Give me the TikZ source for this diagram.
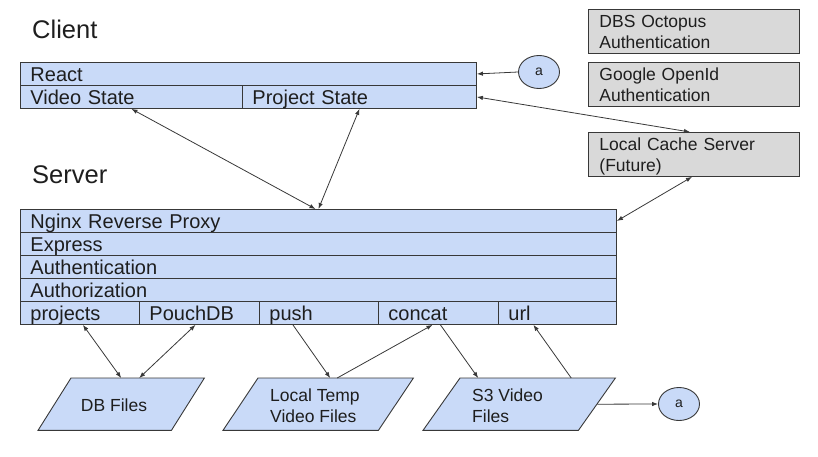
\documentclass[tikz,border=0pt]{standalone}
\usepackage{fontspec}
\setmainfont{Liberation Sans}
\usetikzlibrary{arrows.meta,shapes.geometric}
\definecolor{lblue}{HTML}{C9DAF8}
\definecolor{lgray}{HTML}{D9D9D9}
\definecolor{edgec}{HTML}{383838}
\definecolor{txtc}{HTML}{1E1E1E}
\newcommand\rfnt{\fontsize{20}{23}\selectfont}
\newcommand\gfnt{\fontsize{17.5}{21}\selectfont}
\newcommand\tfnt{\fontsize{25.5}{30}\selectfont}
\newcommand\cfnt{\fontsize{14}{16}\selectfont}
\begin{document}
\begin{tikzpicture}[x=1pt,y=-1pt,
  every node/.style={text=txtc},
  row/.style={draw=edgec, fill=lblue, line width=0.9pt, anchor=north west,
    inner xsep=10pt, inner ysep=0pt, minimum height=23pt,
    text height=15pt, text depth=0pt, align=left, font=\rfnt},
  gbox/.style={draw=edgec, fill=lgray, line width=0.9pt, anchor=north west,
    inner xsep=11pt, inner ysep=0pt, text width=189pt,
    text height=18.5pt, text depth=25.5pt, align=left, font=\gfnt},
  pbound/.style={inner sep=0pt, minimum height=52pt, anchor=north west},
  pshape/.style={draw=edgec, fill=lblue, line width=0.9pt, line join=miter},
  ptext/.style={font=\gfnt, align=left},
  circ/.style={ellipse, draw=edgec, fill=lblue, line width=0.9pt, inner sep=0pt,
    minimum width=41pt, minimum height=33pt, font=\cfnt},
  title/.style={font=\tfnt, anchor=base west, inner sep=0pt},
  conn/.style={draw=edgec, line width=0.8pt},
  oneway/.style={conn, -{Latex[length=6pt,width=4.5pt]}},
  twoway/.style={conn, {Latex[length=6pt,width=4.5pt]}-{Latex[length=6pt,width=4.5pt]}}
]
\useasboundingbox (0,0) rectangle (818,457);

% titles
\node[title] (tclient) at (32,39) {Client};
\node[title] (tserver) at (32,183) {Server};

% client block
\node[row, text width=436pt] (react) at (20,62) {React};
\node[row, text width=202pt] (vs) at (20,85) {Video State};
\node[row, text width=214pt] (ps) at (242,85) {Project State};

% server block
\node[row, text width=576pt] (nginx) at (20,209) {Nginx Reverse Proxy};
\node[row, text width=576pt] (express) at (20,232) {Express};
\node[row, text width=576pt] (auth) at (20,255) {Authentication};
\node[row, text width=576pt] (authz) at (20,278) {Authorization};
\node[row, text width=99pt] (projects) at (20,301) {projects};
\node[row, text width=100pt] (pouch) at (139,301) {PouchDB};
\node[row, text width=99pt] (push) at (259,301) {push};
\node[row, text width=100pt] (concat) at (378,301) {concat};
\node[row, text width=98pt] (url) at (498,301) {url};

% gray boxes
\node[gbox] (dbs) at (588,9) {DBS Octopus\\Authentication};
\node[gbox] (google) at (588,62) {Google OpenId\\Authentication};
\node[gbox] (lc) at (588,132) {Local Cache Server\\(Future)};

% circles
\node[circ] (ca1) at (539,72) {a};
\node[circ] (ca2) at (679,404) {a};

% parallelograms
\node[pbound, minimum width=166pt] (dbf) at (38,378) {};
\path[pshape] ([xshift=33pt]dbf.north west) -- (dbf.north east)
  -- ([xshift=-33pt]dbf.south east) -- (dbf.south west) -- cycle;
\node[ptext, anchor=base] (dbft) at (114,411) {DB Files};

\node[pbound, minimum width=190pt] (lt) at (223,378) {};
\path[pshape] ([xshift=35pt]lt.north west) -- (lt.north east)
  -- ([xshift=-35pt]lt.south east) -- (lt.south west) -- cycle;
\node[ptext, anchor=base west, inner sep=0pt] (ltt) at (270,422) {\setlength\baselineskip{20pt}Local Temp\\Video Files};

\node[pbound, minimum width=192pt] (s3) at (423,378) {};
\path[pshape] ([xshift=37pt]s3.north west) -- (s3.north east)
  -- ([xshift=-37pt]s3.south east) -- (s3.south west) -- cycle;
\node[ptext, anchor=base west, inner sep=0pt] (s3t) at (472,422) {\setlength\baselineskip{20pt}S3 Video\\Files};

% connectors
\draw[oneway] (ca1.west) -- (react.east);
\draw[twoway] (ps.east) -- ([xshift=-4pt]lc.north);
\draw[twoway] (vs.south) -- ([xshift=-3pt]nginx.north);
\draw[twoway] (ps.south) -- (nginx.north);
\draw[twoway] ([xshift=-2pt]lc.south) -- (nginx.east);
\draw[twoway] ([xshift=3pt]projects.south) -- (dbf.north);
\draw[twoway] ([xshift=-4pt]pouch.south) -- ([xshift=18pt]dbf.north);
\draw[oneway] ([xshift=-26pt]push.south) -- ([xshift=12pt]lt.north);
\draw[oneway] ([xshift=19pt]lt.north) -- ([xshift=-6pt]concat.south);
\draw[oneway] ([xshift=2pt]concat.south) -- ([xshift=-41pt]s3.north);
\draw[oneway] ([xshift=52pt]s3.north) -- ([xshift=-24pt]url.south);
\draw[oneway] ([xshift=-18pt]s3.east) -- (ca2.west);
\end{tikzpicture}
\end{document}
